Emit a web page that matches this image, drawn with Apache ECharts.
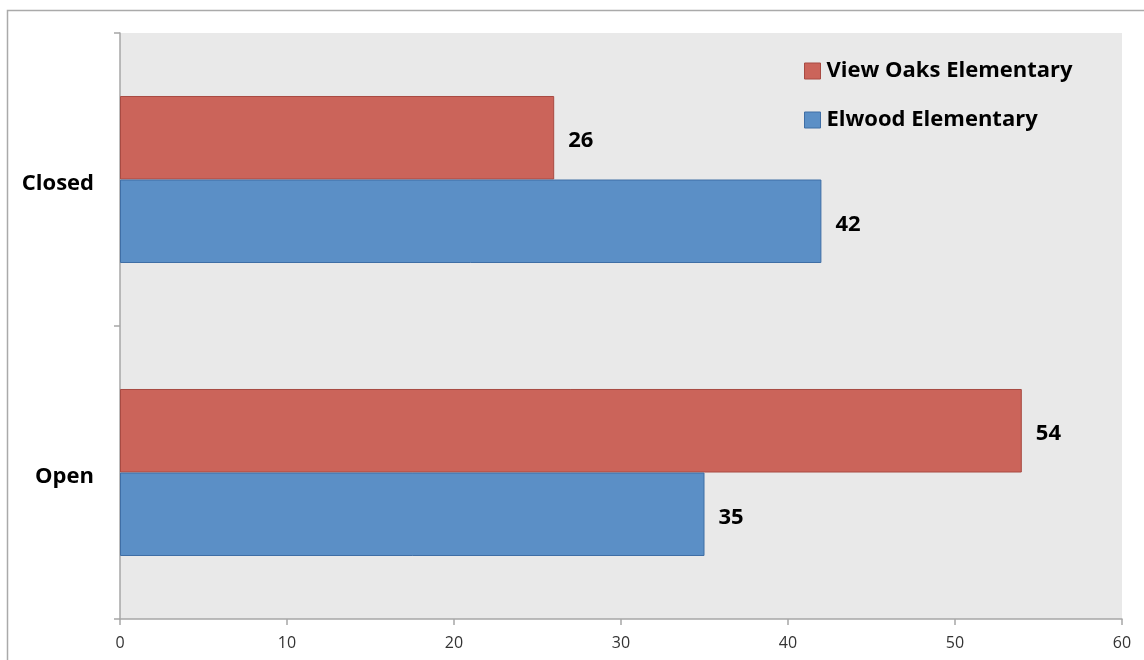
<!DOCTYPE html>
<html><head><meta charset="utf-8">
<script src="https://cdn.jsdelivr.net/npm/echarts@6/dist/echarts.min.js"></script>
<style>html,body{margin:0;padding:0;background:#fff}#c{width:1144px;height:660px}</style>
</head><body><div id="c"></div>
<script>
const categories = ['Open', 'Closed'];
const seriesNames = ['View Oaks Elementary', 'Elwood Elementary'];
const viewOaks = [54, 26];
const elwood = [35, 42];
const xTicks = [0, 10, 20, 30, 40, 50, 60];

const chart = echarts.init(document.getElementById('c'));
const font = '"Open Sans", sans-serif';
const lbl = {show: true, position: 'right', distance: 14, offset: [0, 3], color: '#000', fontWeight: 'bold', fontSize: 22, fontFamily: font};
chart.setOption({
  backgroundColor: '#fff',
  animation: false,
  graphic: [{type: 'rect', shape: {x: 7.5, y: 10.5, width: 1300, height: 800}, style: {fill: 'none', stroke: '#aaa', lineWidth: 1.5}, silent: true, z: -1}],
  grid: {left: 120, right: 22, top: 33, bottom: 41, show: true, backgroundColor: '#E9E9E9', borderWidth: 0},
  legend: {
    orient: 'vertical', left: 799, top: 55, itemGap: 27, itemWidth: 16, itemHeight: 16, itemStyle: {borderWidth: 1},
    data: seriesNames.map(n => ({name: n, icon: 'rect'})),
    textStyle: {fontSize: 22, fontWeight: 'bold', color: '#000', fontFamily: font, padding: [0, 0, 0, 1]}
  },
  xAxis: {
    type: 'value', min: xTicks[0], max: xTicks[xTicks.length - 1], interval: 10,
    splitLine: {show: false},
    axisLine: {show: true, lineStyle: {color: '#a6a6a6', width: 1.5}},
    axisTick: {show: true, length: 6, lineStyle: {color: '#a6a6a6', width: 1.5}},
    axisLabel: {fontSize: 16, color: '#333', margin: 16, fontFamily: font}
  },
  yAxis: {
    type: 'category', data: categories,
    axisLine: {show: true, lineStyle: {color: '#a6a6a6', width: 1.5}},
    axisTick: {show: true, length: 6, lineStyle: {color: '#a6a6a6', width: 1.5}},
    axisLabel: {margin: 26, formatter: '{c|{value}}',
      rich: {c: {fontSize: 22, fontWeight: 'bold', color: '#000', fontFamily: font, padding: [9, 0, 0, 0]}}}
  },
  series: [
    {name: seriesNames[0], type: 'bar', data: viewOaks, barGap: '0%', barCategoryGap: '43%',
     itemStyle: {color: '#CB645A', borderColor: '#A84A42', borderWidth: 1}, label: lbl},
    {name: seriesNames[1], type: 'bar', data: elwood, barGap: '0%', barCategoryGap: '43%',
     itemStyle: {color: '#5B8FC6', borderColor: '#3F6EA5', borderWidth: 1}, label: lbl}
  ]
});
</script></body></html>
